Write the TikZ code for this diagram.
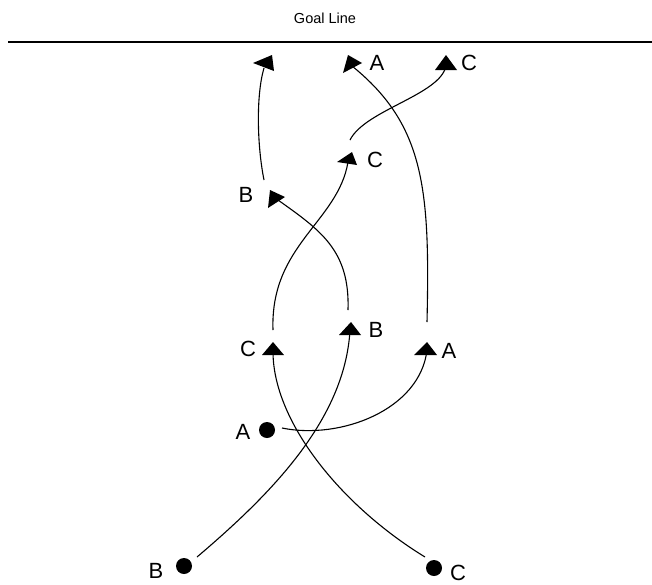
\documentclass[tikz,border=0pt]{standalone}
\usepackage{fontspec}
\setmainfont{Liberation Sans}
\begin{document}
\begin{tikzpicture}[x=1pt,y=-1pt,
  lbl/.style={font=\fontsize{22}{22}\selectfont, inner sep=0pt, anchor=center},
  title/.style={font=\fontsize{14.5}{14.5}\selectfont, inner sep=0pt, anchor=center},
  route/.style={line width=1.1pt},
  dot/.style={circle, fill=black, minimum size=16pt, inner sep=0pt},
  head/.style={fill=black}]
\useasboundingbox (0,0) rectangle (652,584);
% goal line
\node[title] (goal) at (325,18) {Goal Line};
\coordinate (gl1) at (8,42);
\coordinate (gl2) at (652,42);
\draw[line width=2.5pt] (gl1) -- (gl2);
% start dots
\node[dot] (dA) at (267,430) {};
\node[dot] (dB) at (184,566) {};
\node[dot] (dC) at (434,568) {};
\node[lbl] (ldA) at (243,432) {A};
\node[lbl] (ldB) at (156,571) {B};
\node[lbl] (ldC) at (458,573) {C};
% arrow heads
\fill[head] (253,63) -- (272,55) -- (274,71) -- cycle;
\fill[head] (348,55) -- (362,63) -- (343,73) -- cycle;
\fill[head] (446,55) -- (435,70) -- (457,70) -- cycle;
\fill[head] (352,152) -- (337,162) -- (357,165) -- cycle;
\fill[head] (270,190) -- (285,197) -- (268,208) -- cycle;
\fill[head] (273,342) -- (262,355) -- (284,355) -- cycle;
\fill[head] (351,322) -- (339,335) -- (361,335) -- cycle;
\fill[head] (427,342) -- (414,355) -- (437,355) -- cycle;
% labels of heads
\node[lbl] (lA1) at (377,63) {A};
\node[lbl] (lC1) at (469,63) {C};
\node[lbl] (lC2) at (375,160) {C};
\node[lbl] (lB2) at (246,195) {B};
\node[lbl] (lC3) at (248,349) {C};
\node[lbl] (lB3) at (376,330) {B};
\node[lbl] (lA3) at (449,351) {A};
% curve end points
\coordinate (a0) at (264,180); \coordinate (a1) at (264,68);
\coordinate (b0) at (427,322); \coordinate (b1) at (352,66);
\coordinate (c0) at (350,140); \coordinate (c1) at (446,66);
\coordinate (d0) at (273,330); \coordinate (d1) at (348,162);
\coordinate (e0) at (348,310); \coordinate (e1) at (278,200);
\coordinate (f0) at (425,557); \coordinate (f1) at (273,350);
\coordinate (g0) at (197,557); \coordinate (g1) at (350,330);
\coordinate (h0) at (282,428); \coordinate (h1) at (427,350);
% curves
\draw[route] (a0) .. controls (257,145) and (256,95) .. (a1);
\draw[route] (b0) .. controls (430,190) and (425,125) .. (b1);
\draw[route] (c0) .. controls (365,110) and (440,95) .. (c1);
\draw[route] (d0) .. controls (270,245) and (338,222) .. (d1);
\draw[route] (e0) .. controls (350,250) and (320,230) .. (e1);
\draw[route] (f0) .. controls (340,505) and (272,420) .. (f1);
\draw[route] (g0) .. controls (270,495) and (345,420) .. (g1);
\draw[route] (h0) .. controls (340,440) and (420,410) .. (h1);
\end{tikzpicture}
\end{document}
